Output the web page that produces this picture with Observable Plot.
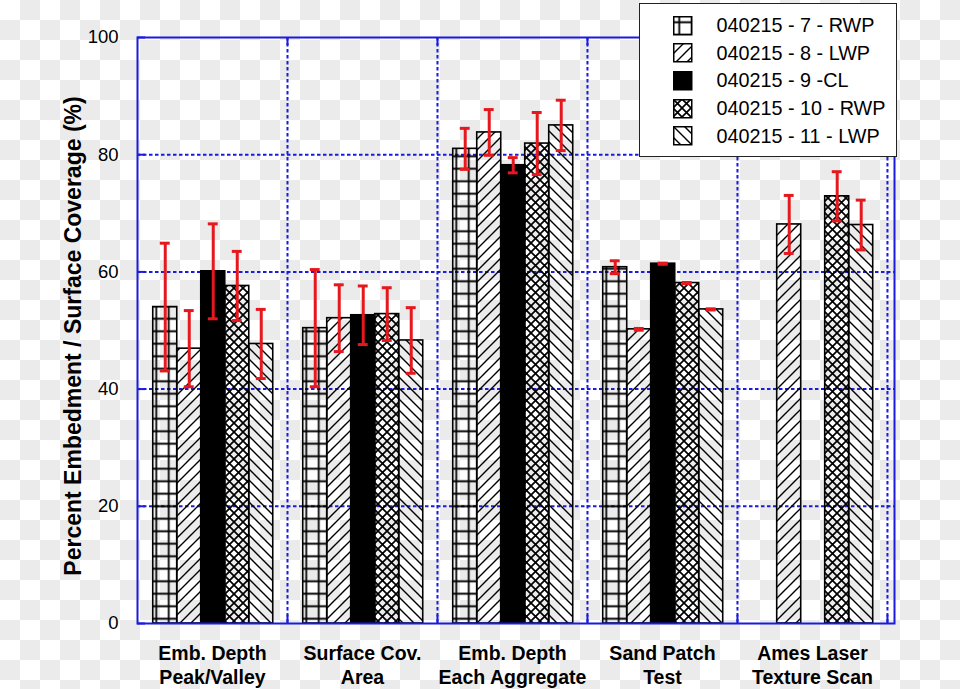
<!DOCTYPE html>
<html>
<head>
<meta charset="utf-8">
<script src="https://cdn.jsdelivr.net/npm/d3@7"></script>
<script src="https://cdn.jsdelivr.net/npm/@observablehq/plot@0.6"></script>
<style>
html, body { margin: 0; padding: 0; }
body {
  width: 960px; height: 689px; position: relative; overflow: hidden;
  background: repeating-conic-gradient(#ebebeb 0% 25%, #ffffff 0% 50%) 0 0 / 40px 40px;
  font-family: "Liberation Sans", Arial, Helvetica, sans-serif;
}
#chart { position: absolute; left: 0; top: 0; }
#ylabel {
  position: absolute; left: 73px; top: 336px;
  transform: translate(-50%, -50%) rotate(-90deg);
  white-space: nowrap; font-weight: bold; font-size: 23px; color: #000;
}
#legend {
  position: absolute; left: 639px; top: 3px; width: 258px; height: 154px;
  box-sizing: border-box; background: #fff; border: 1.5px solid #222;
  padding-top: 8px;
}
.lrow { display: flex; align-items: center; height: 27.6px; }
.lrow svg { margin-left: 32.5px; flex: none; }
.lrow span { margin-left: 24px; font-size: 19.8px; color: #000; white-space: nowrap; }
</style>
</head>
<body>
<svg width="0" height="0" style="position:absolute">
  <defs>
    <pattern id="pat0" patternUnits="userSpaceOnUse" width="12.5" height="12.5">
      <path d="M0,6.25H12.5M6.25,0V12.5" stroke="#000" stroke-width="1.8" fill="none"/>
    </pattern>
    <pattern id="pat1" patternUnits="userSpaceOnUse" width="11" height="11">
      <path d="M-1,1L1,-1M0,11L11,0M10,12L12,10" stroke="#000" stroke-width="1.4" fill="none"/>
    </pattern>
    <pattern id="pat3" patternUnits="userSpaceOnUse" width="9" height="9">
      <path d="M0,0L9,9M0,9L9,0" stroke="#000" stroke-width="1.7" fill="none"/>
    </pattern>
    <pattern id="pat4" patternUnits="userSpaceOnUse" width="11" height="11">
      <path d="M0,0L11,11M-1,10L1,12M10,-1L12,1" stroke="#000" stroke-width="1.4" fill="none"/>
    </pattern>
  </defs>
</svg>
<div id="chart"></div>
<div id="ylabel">Percent Embedment / Surface Coverage (%)</div>
<div id="legend"></div>
<script>
// ---- data ----
const categories = ["Emb. Depth\nPeak/Valley", "Surface Cov.\nArea", "Emb. Depth\nEach Aggregate", "Sand Patch\nTest", "Ames Laser\nTexture Scan"];
const seriesNames = ["040215 - 7 - RWP", "040215 - 8 - LWP", "040215 - 9 -CL", "040215 - 10 - RWP", "040215 - 11 - LWP"];
const values7  = [54.0, 50.4, 81.0, 60.8, null];
const values8  = [46.9, 52.1, 83.8, 50.2, 68.1];
const values9  = [60.1, 52.6, 78.2, 61.4, null];
const values10 = [57.6, 52.8, 81.9, 58.1, 72.9];
const values11 = [47.7, 48.3, 85.0, 53.6, 68.0];
const errors7  = [10.9, 10.0, 3.5, 1.1, null];
const errors8  = [6.5, 5.7, 3.9, 0.15, 4.95];
const errors9  = [8.1, 5.0, 1.3, 0.1, null];
const errors10 = [5.9, 4.5, 5.3, 0.1, 4.2];
const errors11 = [5.9, 5.6, 4.3, 0.1, 4.25];
const yTicks = [0, 20, 40, 60, 80, 100];

// ---- build ----
const allValues = [values7, values8, values9, values10, values11];
const allErrors = [errors7, errors8, errors9, errors10, errors11];
const fills = ["url(#pat0)", "url(#pat1)", "#000", "url(#pat3)", "url(#pat4)"];
const blue = "#1a1ae0";
const red = "#e5181e";
const groupOffset = 0.105, barW = 0.16, capHalf = 0.033;

const rows = [];
allValues.forEach((vals, si) => vals.forEach((v, ci) => {
  if (v != null) rows.push({si, ci, value: v, err: allErrors[si][ci]});
}));
const xl = d => d.ci + groupOffset + d.si * barW;
const xc = d => xl(d) + barW / 2;
const boundaries = d3.range(1, categories.length + 1);
const gridY = yTicks.filter(t => t > 0 && t < 100);

const chart = Plot.plot({
  width: 960, height: 689,
  marginLeft: 137, marginRight: 66, marginTop: 37, marginBottom: 66,
  x: {domain: [0, categories.length * 1.0094], axis: null},
  y: {domain: [0, 100], ticks: yTicks, tickSize: 0, tickPadding: 19, label: null},
  style: {fontFamily: "'Liberation Sans', Arial, Helvetica, sans-serif", fontSize: "18.5px", background: "transparent", color: "#000"},
  marks: [
    Plot.ruleY(gridY, {stroke: blue, strokeWidth: 2, strokeDasharray: "3.5,2.5"}),
    Plot.ruleX(boundaries, {stroke: blue, strokeWidth: 2, strokeDasharray: "3.5,2.5"}),
    Plot.ruleY(yTicks, {x1: 0, x2: 8 / 150, stroke: blue, strokeWidth: 2}),
    Plot.ruleX(boundaries, {y1: 0, y2: 1.4, stroke: blue, strokeWidth: 2}),
    Plot.ruleX(boundaries, {y1: 100, y2: 98.6, stroke: blue, strokeWidth: 2}),
    ...seriesNames.map((s, si) => Plot.rectY(rows.filter(r => r.si === si), {
      x1: xl, x2: d => xl(d) + barW, y1: 0, y2: "value",
      fill: fills[si], stroke: "#000", strokeWidth: 1.6
    })),
    Plot.frame({stroke: blue, strokeWidth: 2}),
    Plot.ruleX(rows, {x: xc, y1: d => d.value - d.err, y2: d => d.value + d.err, stroke: red, strokeWidth: 3}),
    Plot.ruleY(rows, {y: d => d.value + d.err, x1: d => xc(d) - capHalf, x2: d => xc(d) + capHalf, stroke: red, strokeWidth: 3}),
    Plot.ruleY(rows, {y: d => d.value - d.err, x1: d => xc(d) - capHalf, x2: d => xc(d) + capHalf, stroke: red, strokeWidth: 3}),
    Plot.text(categories, {x: (d, i) => i + 0.5, y: 0, text: d => d, dy: 40.5, lineAnchor: "middle", lineHeight: 1.28,
      fontSize: 19.5, fontWeight: "bold", fill: "#000"})
  ]
});
document.getElementById("chart").appendChild(chart);

// ---- legend ----
const legend = document.getElementById("legend");
seriesNames.forEach((name, si) => {
  const row = document.createElement("div");
  row.className = "lrow";
  row.innerHTML = `<svg width="20" height="20"><rect x="0.75" y="0.75" width="18" height="18" fill="${fills[si]}" stroke="#000" stroke-width="1.5"/></svg><span>${name}</span>`;
  legend.appendChild(row);
});
</script>
</body>
</html>
